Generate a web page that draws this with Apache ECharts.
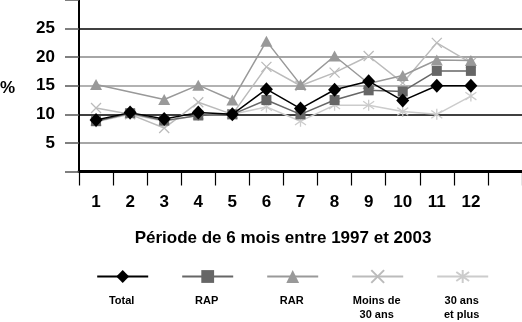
<!DOCTYPE html>
<html>
<head>
<meta charset="utf-8">
<script src="https://cdn.jsdelivr.net/npm/echarts@6/dist/echarts.min.js"></script>
<style>
html,body{margin:0;padding:0;background:#fff;}
#c{width:522px;height:322px;}
</style>
</head>
<body>
<div id="c"></div>
<script>
const categories = ['1','2','3','4','5','6','7','8','9','10','11','12'];
const seriesNames = ['Total','RAP','RAR','Moins de 30 ans','30 ans et plus'];
const legendLabels = ['Total','RAP','RAR','Moins de\n30 ans','30 ans\net plus'];
const total = [9, 10.3, 9.2, 10.3, 10, 14.4, 11, 14.3, 15.8, 12.4, 15, 15];
const rap = [8.8, 10.2, 8.9, 9.8, 10, 12.5, 10, 12.5, 14.2, 14, 17.6, 17.6];
const rar = [15.2, null, 12.6, 15.1, 12.5, 22.8, 15.2, 20.2, 15.4, 16.8, 19.5, 19.4];
const moins30 = [11.1, 10, 7.6, 12.1, 10, 18.3, 15, 17.3, 20.2, 15.5, 22.5, 19];
const plus30 = [8.7, 10, 8.8, 9.8, 10, 11.3, 8.8, 11.6, 11.6, 10.5, 10, 13.2];
const yTicks = [5, 10, 15, 20, 25];
const xTitle = 'Période de 6 mois entre 1997 et 2003';

const FONT = '"Liberation Sans", Arial, sans-serif';
const chart = echarts.init(document.getElementById('c'));

const colors = ['#000000', '#666666', '#999999', '#bbbbbb', '#cccccc'];
const symbols = [
  'diamond', 'rect', 'triangle',
  'path://M0,0L10,10M10,0L0,10',
  'path://M5,0L5,10M0.8,1.5L9.2,8.5M9.2,1.5L0.8,8.5'
];
const sizes = [[13,14], 10, [12,11], 10, 11];
const dataSets = [total, rap, rar, moins30, plus30];

const series = dataSets.map((d, i) => ({
  name: seriesNames[i],
  type: 'line',
  data: d,
  connectNulls: true,
  symbol: symbols[i],
  symbolSize: sizes[i],
  showAllSymbol: true,
  color: colors[i],
  lineStyle: { color: colors[i], width: 1.5 },
  itemStyle: i >= 3 ? { color: colors[i], borderColor: colors[i], borderWidth: 1.3 } : { color: colors[i] },
  z: 10 - i,
  animation: false
}));

const legendCenters = [121.7, 206.7, 291.7, 376.7, 461.7];
const legends = seriesNames.map((n, i) => ({
  data: [n],
  left: legendCenters[i] - 25.5,
  top: 268.5,
  padding: 0,
  itemWidth: 51,
  itemHeight: 16,
  formatter: () => '',
  selectedMode: false,
  textStyle: { fontSize: 1 }
}));

const graphics = legendLabels.map((t, i) => ({
  type: 'text',
  x: legendCenters[i],
  y: 294,
  style: { text: t, fill: '#000', fontFamily: FONT, fontWeight: 'bold', fontSize: 11, align: 'center', verticalAlign: 'top', lineHeight: 14 }
}));
graphics.push({
  type: 'text', x: 0, y: 88,
  style: { text: '%', fill: '#000', fontFamily: FONT, fontWeight: 'bold', fontSize: 17, align: 'left', verticalAlign: 'middle' }
});
graphics.push({
  type: 'text', x: 283, y: 238,
  style: { text: xTitle, fill: '#000', fontFamily: FONT, fontWeight: 'bold', fontSize: 17, align: 'center', verticalAlign: 'middle' }
});

chart.setOption({
  backgroundColor: '#fff',
  animation: false,
  grid: { left: 79, right: -1, top: 0, height: 171.5, containLabel: false },
  legend: legends,
  xAxis: {
    type: 'category',
    data: categories.concat(['']),
    boundaryGap: true,
    axisLine: { show: true, lineStyle: { color: '#000', width: 3 } },
    axisTick: { show: true, length: 14, lineStyle: { color: '#000', width: 1.2 } },
    axisLabel: { color: '#000', fontFamily: FONT, fontWeight: 'bold', fontSize: 17, margin: 22 },
    splitLine: { show: false }
  },
  yAxis: {
    type: 'value',
    min: 0, max: 30, interval: 5,
    axisLine: { show: true, lineStyle: { color: '#000', width: 2 } },
    axisTick: { show: true, length: 14, lineStyle: { color: '#555', width: 1.5 } },
    axisLabel: {
      color: '#000', fontFamily: FONT, fontWeight: 'bold', fontSize: 17, margin: 24,
      formatter: v => (yTicks.indexOf(v) >= 0 ? String(v) : '')
    },
    splitLine: {
      show: true,
      showMinLine: false,
      showMaxLine: false,
      lineStyle: { color: ['#888', '#000', '#999', '#888', '#000'], width: 1.6 }
    }
  },
  graphic: graphics,
  series: series
});
</script>
</body>
</html>
